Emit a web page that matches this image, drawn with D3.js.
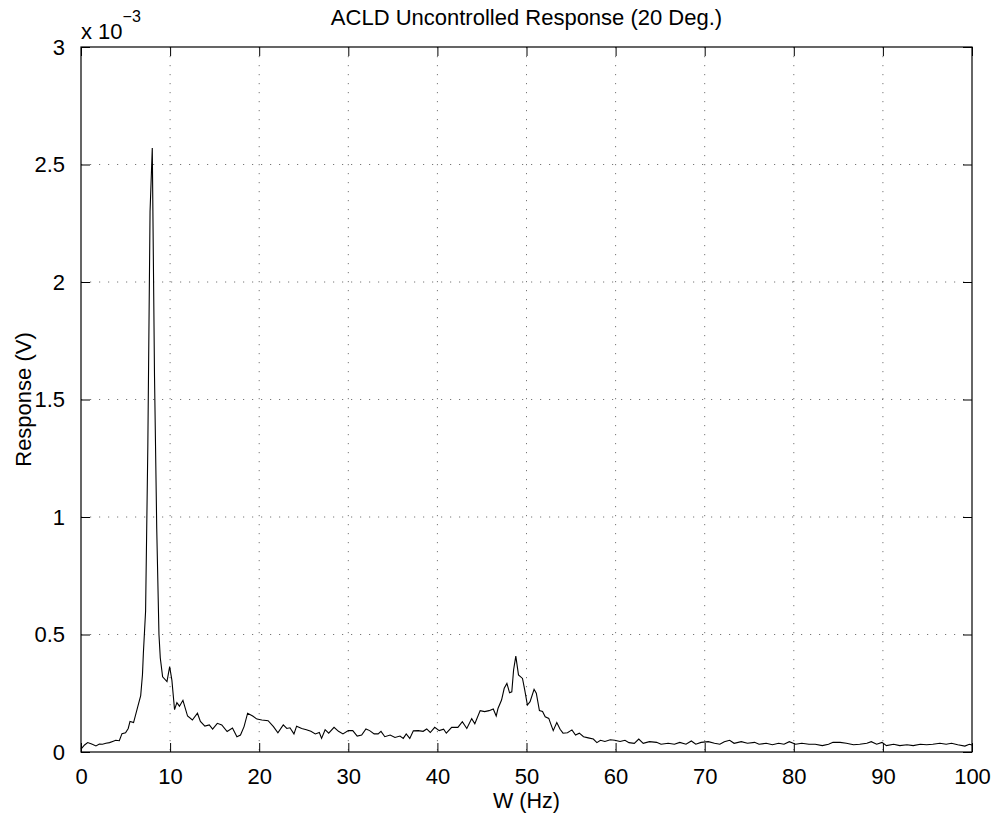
<!DOCTYPE html>
<html>
<head>
<meta charset="utf-8">
<script src="https://cdn.jsdelivr.net/npm/d3@7"></script>
<style>
  body { margin: 0; background: #fff; }
  text { font-family: "Liberation Sans", Arial, Helvetica, sans-serif; fill: #000; }
</style>
</head>
<body>
<div id="chart"></div>
<script>
// frequency (Hz) and response (x 1e-3 V)
const freq = [0, 0.4, 0.75, 1.2, 1.68, 2.06, 2.4, 2.8, 3.2, 3.55, 3.9, 4.3, 4.6, 5.0, 5.3, 5.5, 5.9, 6.35, 6.7, 6.9,
  7.0, 7.25, 7.5, 7.75, 8.0, 8.25, 8.5, 8.75, 8.9, 9.16, 9.65, 9.95, 10.2, 10.5, 10.76, 11.05, 11.44, 11.96, 12.5, 13.07,
  13.4, 13.9, 14.4, 14.77, 15.3, 15.8, 16.4, 17.0, 17.5, 17.9, 18.3, 18.7, 19.27, 19.75, 20.3, 21.0, 21.6, 22.1, 22.7, 23.1,
  23.45, 23.9, 24.2, 24.77, 25.3, 25.8, 26.3, 26.75, 27.0, 27.4, 27.8, 28.4, 28.9, 29.4, 30.0, 30.5, 31.0, 31.5, 31.98, 32.4,
  32.9, 33.35, 33.67, 34.1, 34.7, 35.24, 35.8, 36.17, 36.5, 36.9, 37.3, 37.85, 38.4, 38.8, 39.2, 39.7, 40.2, 40.7, 41.0, 41.6,
  42.3, 42.8, 43.3, 43.85, 44.2, 44.8, 45.3, 45.8, 46.27, 46.6, 46.8, 47.2, 47.5, 47.8, 48.1, 48.35, 48.55, 48.8, 49.1, 49.55,
  49.8, 50.1, 50.4, 50.85, 51.1, 51.45, 51.8, 52.1, 52.5, 52.7, 53.0, 53.4, 53.77, 54.1, 54.6, 55.1, 55.5, 55.93, 56.4, 56.93,
  57.5, 57.9, 58.3, 58.8, 59.4, 59.9, 60.5, 61.05, 61.5, 62.1, 62.6, 63.1, 63.8, 64.6, 65.1, 65.9, 66.6, 67.2, 67.9, 68.5,
  69.0, 69.6, 70.4, 71.1, 71.7, 72.2, 72.8, 73.3, 74.1, 74.8, 75.6, 76.1, 76.9, 77.6, 78.3, 78.9, 79.5, 80.2, 80.9, 81.7,
  82.4, 83.2, 83.9, 84.4, 85.2, 85.9, 86.7, 87.4, 88.2, 88.7, 89.3, 89.9, 90.4, 91.2, 91.9, 92.7, 93.4, 94.2, 94.9, 95.6,
  96.4, 97.1, 97.7, 98.4, 99.2, 99.7, 100];
const resp = [0.012, 0.03, 0.04, 0.034, 0.026, 0.034, 0.033, 0.037, 0.04, 0.045, 0.05, 0.048, 0.078, 0.082, 0.1, 0.13, 0.125, 0.19, 0.24, 0.33,
  0.42, 0.6, 1.3, 2.3, 2.57, 1.6, 0.95, 0.5, 0.4, 0.32, 0.30, 0.363, 0.306, 0.18, 0.21, 0.195, 0.22, 0.153, 0.136, 0.165,
  0.13, 0.11, 0.115, 0.097, 0.122, 0.115, 0.087, 0.102, 0.065, 0.072, 0.108, 0.165, 0.153, 0.14, 0.136, 0.133, 0.108, 0.082, 0.115, 0.10,
  0.103, 0.077, 0.11, 0.10, 0.095, 0.088, 0.077, 0.083, 0.058, 0.095, 0.08, 0.105, 0.088, 0.077, 0.091, 0.091, 0.068, 0.072, 0.098, 0.091,
  0.077, 0.077, 0.088, 0.065, 0.072, 0.062, 0.068, 0.058, 0.077, 0.058, 0.09, 0.091, 0.088, 0.098, 0.083, 0.105, 0.091, 0.097, 0.08, 0.105,
  0.105, 0.129, 0.10, 0.142, 0.12, 0.176, 0.172, 0.176, 0.183, 0.153, 0.185, 0.221, 0.271, 0.292, 0.252, 0.256, 0.349, 0.408, 0.328, 0.313,
  0.264, 0.2, 0.214, 0.267, 0.25, 0.176, 0.172, 0.15, 0.143, 0.122, 0.091, 0.125, 0.097, 0.08, 0.082, 0.094, 0.072, 0.08, 0.065, 0.06,
  0.055, 0.04, 0.05, 0.045, 0.052, 0.05, 0.045, 0.05, 0.04, 0.037, 0.055, 0.037, 0.044, 0.041, 0.033, 0.037, 0.033, 0.041, 0.033, 0.047,
  0.033, 0.041, 0.044, 0.037, 0.033, 0.044, 0.05, 0.037, 0.044, 0.037, 0.041, 0.033, 0.037, 0.031, 0.037, 0.033, 0.044, 0.033, 0.037, 0.033,
  0.033, 0.027, 0.033, 0.041, 0.041, 0.037, 0.031, 0.033, 0.037, 0.044, 0.033, 0.041, 0.027, 0.033, 0.027, 0.031, 0.027, 0.033, 0.031, 0.033,
  0.037, 0.033, 0.037, 0.031, 0.025, 0.033, 0.03];

const xTicks = [0, 10, 20, 30, 40, 50, 60, 70, 80, 90, 100];
const yTicks = [0, 0.5, 1, 1.5, 2, 2.5, 3];

const width = 1000, height = 817;
const margin = {top: 47, right: 28, bottom: 65, left: 81};
const plotW = width - margin.left - margin.right;
const plotH = height - margin.top - margin.bottom;

const x = d3.scaleLinear().domain([0, 100]).range([0, plotW]);
const y = d3.scaleLinear().domain([0, 3]).range([plotH, 0]);

const svg = d3.select("#chart").append("svg")
  .attr("width", width)
  .attr("height", height);

const g = svg.append("g")
  .attr("transform", `translate(${margin.left},${margin.top})`);

// dotted grid
g.selectAll(".vgrid")
  .data(xTicks.slice(1, -1))
  .enter().append("line")
  .attr("x1", d => x(d)).attr("x2", d => x(d))
  .attr("y1", 0).attr("y2", plotH)
  .attr("stroke", "#777")
  .attr("stroke-dasharray", "1.2,7.8");

g.selectAll(".hgrid")
  .data(yTicks.slice(1, -1))
  .enter().append("line")
  .attr("y1", d => y(d)).attr("y2", d => y(d))
  .attr("x1", 0).attr("x2", plotW)
  .attr("stroke", "#777")
  .attr("stroke-dasharray", "1.2,7.8");

// response curve
const line = d3.line()
  .x((d, i) => x(freq[i]))
  .y(d => y(d));

g.append("path")
  .datum(resp)
  .attr("fill", "none")
  .attr("stroke", "#000")
  .attr("stroke-width", 1.1)
  .attr("d", line);

// axes, ticks pointing inward like matlab
const xAxis = g.append("g")
  .attr("transform", `translate(0,${plotH})`)
  .call(d3.axisBottom(x).tickValues(xTicks).tickSize(-9).tickPadding(16).tickFormat(d3.format("d")));
const xTop = g.append("g")
  .call(d3.axisTop(x).tickValues(xTicks).tickSize(-9).tickFormat(""));
const yAxis = g.append("g")
  .call(d3.axisLeft(y).tickValues(yTicks).tickSize(-9).tickPadding(16).tickFormat(d => d));
const yRight = g.append("g")
  .attr("transform", `translate(${plotW},0)`)
  .call(d3.axisRight(y).tickValues(yTicks).tickSize(-9).tickFormat(""));

[xAxis, xTop, yAxis, yRight].forEach(a => {
  a.select(".domain").remove();
  a.selectAll("line").attr("stroke", "#000");
  a.selectAll("text").attr("font-size", 22).attr("font-family", "Liberation Sans, Arial, sans-serif");
});
xAxis.selectAll("text").attr("dy", "0.71em");

g.append("rect")
  .attr("width", plotW).attr("height", plotH)
  .attr("fill", "none").attr("stroke", "#000").attr("stroke-width", 1.2);

// exponent label
const expo = svg.append("text")
  .attr("x", margin.left)
  .attr("y", 39)
  .attr("font-size", 22);
expo.append("tspan").text("x 10");
expo.append("tspan").attr("font-size", 16).attr("dy", -17).text("\u22123");

svg.append("text")
  .attr("x", margin.left + plotW / 2)
  .attr("y", 25)
  .attr("text-anchor", "middle")
  .attr("font-size", 22)
  .text("ACLD Uncontrolled Response (20 Deg.)");

svg.append("text")
  .attr("x", margin.left + plotW / 2)
  .attr("y", 808)
  .attr("text-anchor", "middle")
  .attr("font-size", 21.5)
  .text("W (Hz)");

svg.append("text")
  .attr("transform", `translate(31,${margin.top + plotH / 2}) rotate(-90)`)
  .attr("text-anchor", "middle")
  .attr("font-size", 22)
  .text("Response (V)");
</script>
</body>
</html>
